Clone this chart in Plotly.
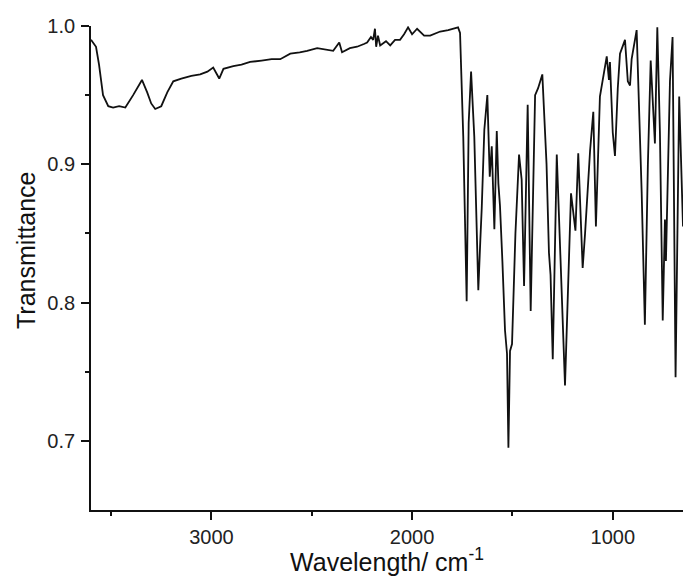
import plotly.graph_objects as go

# Wavenumber (cm^-1) and transmittance
wavenumber = [
    3600, 3590, 3575, 3560, 3540, 3514, 3490, 3460, 3429, 3390, 3346, 3320, 3300, 3280,
    3250, 3220, 3190, 3150, 3100, 3056, 3020, 2991, 2961, 2940, 2891, 2850, 2807, 2750,
    2700, 2657, 2607, 2560, 2523, 2473, 2430, 2393, 2363, 2349, 2310, 2274, 2240, 2224,
    2205, 2194, 2185, 2179, 2170, 2159, 2130, 2109, 2085, 2060, 2040, 2020, 2000, 1975,
    1940, 1910, 1860, 1820, 1771, 1761, 1745, 1728, 1718, 1706, 1690, 1670, 1660, 1653,
    1640, 1625, 1613, 1603, 1590, 1578, 1570, 1562, 1550, 1537, 1527, 1520, 1512, 1502,
    1485, 1467, 1454, 1442, 1424, 1409, 1387, 1372, 1351, 1330, 1318, 1310, 1299, 1279,
    1260, 1238, 1208, 1196, 1186, 1172, 1150, 1138, 1113, 1097, 1084, 1064, 1045, 1030,
    1019, 1014, 1000, 989, 975, 964, 939, 925, 914, 906, 881, 870, 856, 840,
    825, 811, 790, 778, 765, 751, 740, 735, 730, 715, 702, 687, 669, 650,
]
transmittance = [
    0.990, 0.988, 0.985, 0.972, 0.950, 0.942, 0.941, 0.942, 0.941, 0.950, 0.961, 0.952, 0.944, 0.940,
    0.942, 0.952, 0.960, 0.962, 0.964, 0.965, 0.967, 0.970, 0.962, 0.969, 0.971, 0.972, 0.974, 0.975,
    0.976, 0.976, 0.980, 0.981, 0.982, 0.984, 0.983, 0.982, 0.988, 0.981, 0.984, 0.985, 0.987, 0.988,
    0.992, 0.990, 0.998, 0.985, 0.993, 0.986, 0.989, 0.986, 0.990, 0.990, 0.994, 0.999, 0.994, 0.998,
    0.993, 0.993, 0.996, 0.997, 0.999, 0.995, 0.920, 0.801, 0.930, 0.967, 0.920, 0.809, 0.845, 0.868,
    0.925, 0.950, 0.891, 0.913, 0.853, 0.924, 0.886, 0.870, 0.830, 0.780, 0.763, 0.695, 0.765, 0.770,
    0.850, 0.907, 0.889, 0.812, 0.943, 0.794, 0.950, 0.955, 0.965, 0.900, 0.836, 0.820, 0.759, 0.907,
    0.830, 0.740, 0.879, 0.865, 0.852, 0.908, 0.825, 0.850, 0.910, 0.938, 0.855, 0.949, 0.965, 0.978,
    0.961, 0.974, 0.923, 0.906, 0.955, 0.980, 0.990, 0.960, 0.957, 0.976, 0.997, 0.950, 0.880, 0.784,
    0.900, 0.975, 0.915, 0.999, 0.923, 0.787, 0.860, 0.830, 0.870, 0.960, 0.992, 0.746, 0.949, 0.855,
]

x_ticks = [3000, 2000, 1000]
y_ticks = [0.7, 0.8, 0.9, 1.0]
y_ticklabels = ["0.7", "0.8", "0.9", "1.0"]

FONT = "Liberation Sans, Arial, sans-serif"

fig = go.Figure()
fig.add_trace(go.Scatter(
    x=wavenumber, y=transmittance, mode="lines",
    line=dict(color="#111111", width=1.8),
    showlegend=False, cliponaxis=False,
))

fig.update_layout(
    width=683, height=576,
    margin=dict(l=91, r=0, t=26, b=66),
    paper_bgcolor="white", plot_bgcolor="white",
    font=dict(family=FONT, color="#222222"),
    xaxis=dict(
        range=[3600, 650],
        tickvals=x_ticks, ticktext=[str(v) for v in x_ticks],
        ticks="outside", ticklen=8, tickwidth=1.5, tickcolor="#111",
        showline=True, linecolor="#111", linewidth=1.8,
        showgrid=False, zeroline=False,
        tickfont=dict(size=20, family=FONT, color="#222"),
        minor=dict(tickvals=[3500, 2500, 1500], ticks="outside", ticklen=4,
                   tickwidth=1.5, tickcolor="#111", showgrid=False),
        title=dict(text="Wavelength/ cm<sup>-1</sup>", font=dict(size=25, family=FONT, color="#111"),
                   standoff=0),
    ),
    yaxis=dict(
        range=[0.65, 1.0],
        tickvals=y_ticks, ticktext=y_ticklabels,
        ticks="outside", ticklen=8, tickwidth=1.5, tickcolor="#111",
        showline=True, linecolor="#111", linewidth=1.8,
        showgrid=False, zeroline=False,
        tickfont=dict(size=20, family=FONT, color="#222"),
        ticklabelstandoff=2,
        minor=dict(tickvals=[0.75, 0.85, 0.95], ticks="outside", ticklen=4,
                   tickwidth=1.5, tickcolor="#111", showgrid=False),
    ),
    annotations=[dict(
        text="Transmittance", textangle=-90, showarrow=False,
        xref="paper", yref="paper", x=-0.11, y=0.537,
        xanchor="center", yanchor="middle",
        font=dict(size=25, family=FONT, color="#111"),
    )],
)

fig.write_html("out.html")
